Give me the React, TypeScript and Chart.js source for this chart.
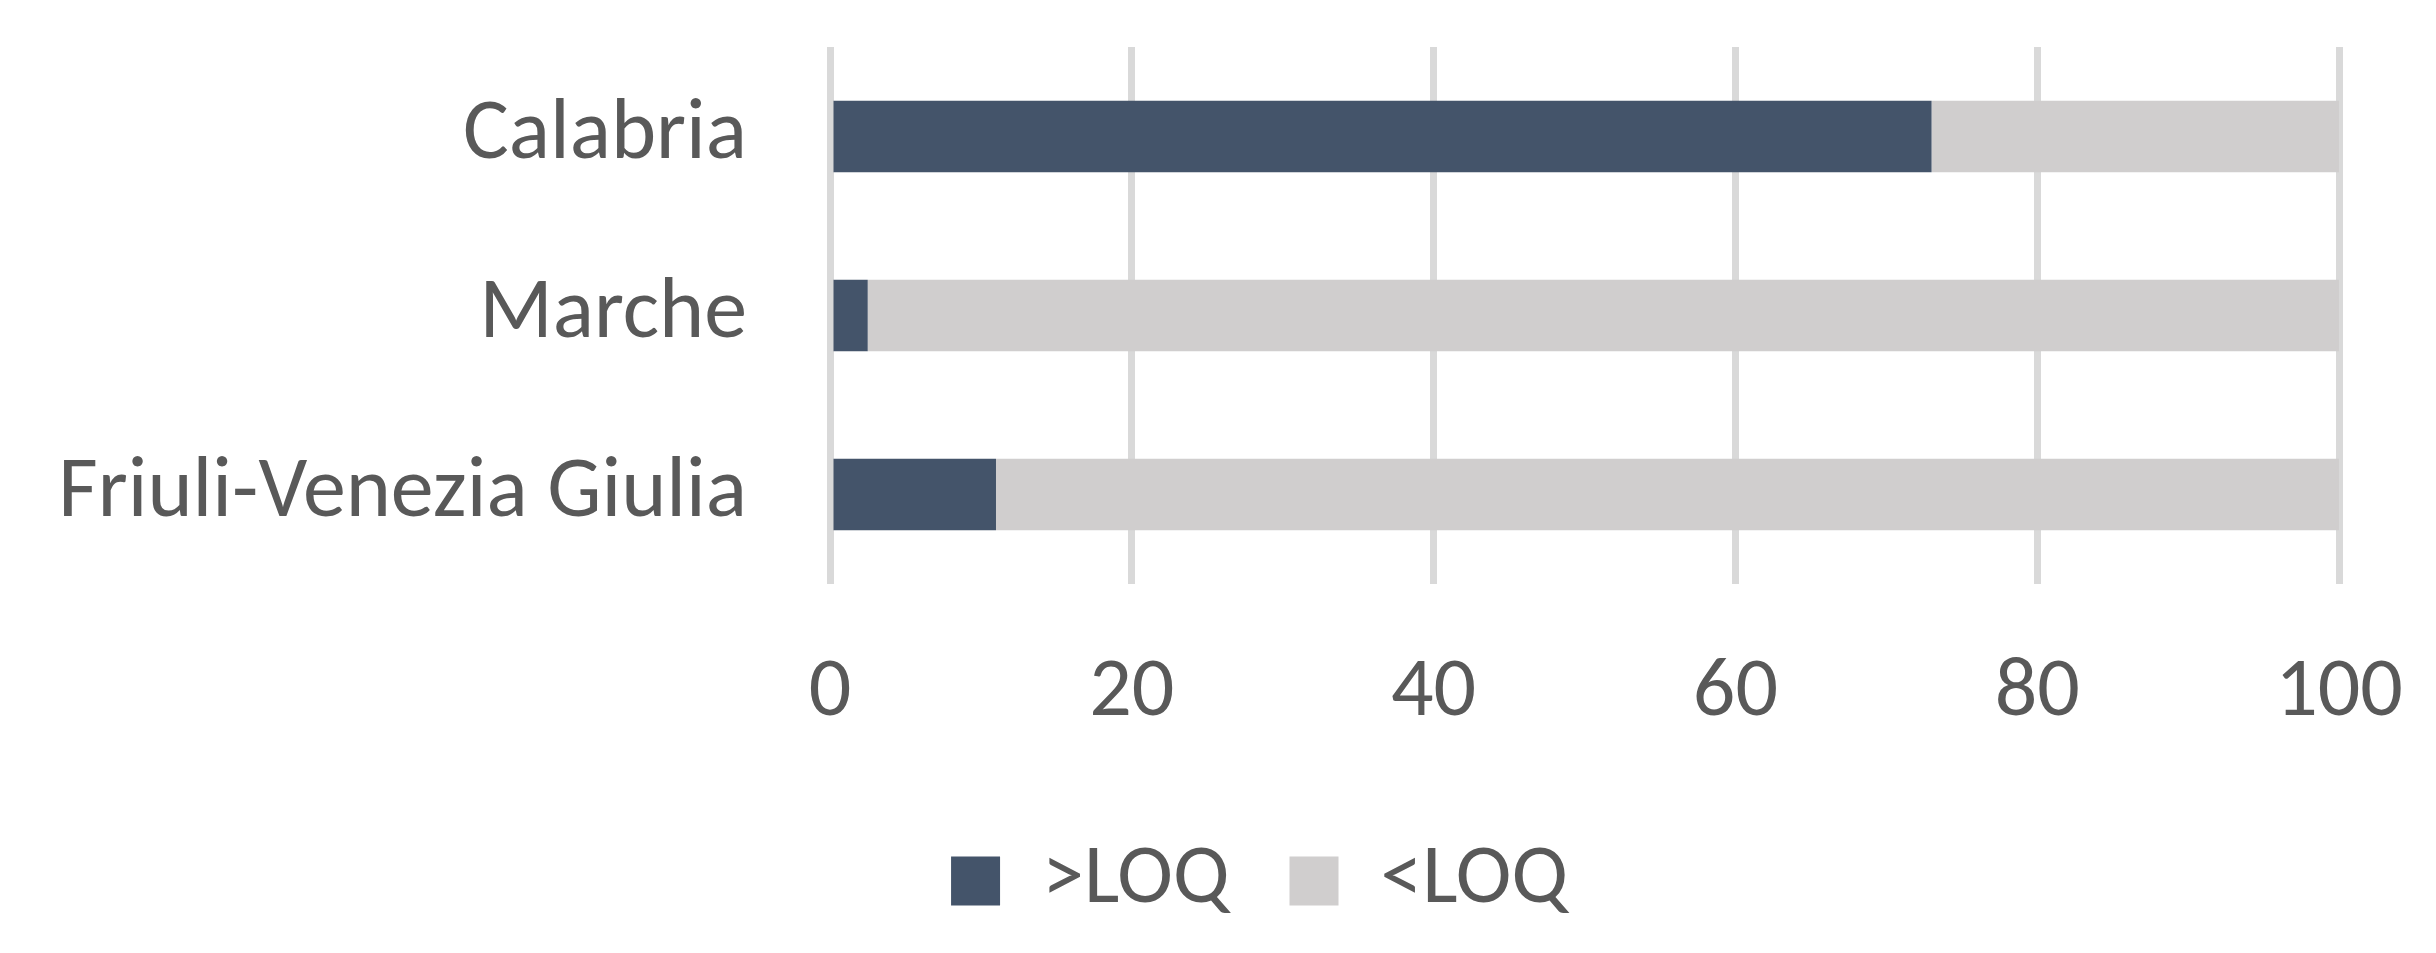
import React, { useEffect, useRef } from "react";
import { Chart, registerables } from "chart.js";

Chart.register(...registerables);

const categories = ["Calabria", "Marche", "Friuli-Venezia Giulia"];
const aboveLOQ = [73, 2.5, 11];
const belowLOQ = [27, 97.5, 89];
const seriesNames = [">LOQ", "<LOQ"];
const xTicks = [0, 20, 40, 60, 80, 100];

const FONT = "Carlito, Lato, sans-serif";
const TEXT = "#595959";

const legendShift = {
  id: "legendShift",
  afterLayout(chart: any) {
    const lg = chart.legend;
    if (lg) {
      lg.left += 90;
      lg.right += 90;
    }
  },
};

export default function App() {
  const ref = useRef<HTMLCanvasElement | null>(null);
  useEffect(() => {
    if (!ref.current) return;
    const chart = new Chart(ref.current, {
      type: "bar",
      data: {
        labels: categories,
        datasets: [
          { label: seriesNames[0], data: aboveLOQ, backgroundColor: "#44546A", borderWidth: 0, categoryPercentage: 1, barPercentage: 0.4 },
          { label: seriesNames[1], data: belowLOQ, backgroundColor: "#D0CECE", borderWidth: 0, categoryPercentage: 1, barPercentage: 0.4 },
        ],
      },
      options: {
        indexAxis: "y",
        animation: false,
        responsive: false,
        devicePixelRatio: 1,
        layout: { padding: { left: 0, right: 97, top: 47, bottom: 20 } },
        scales: {
          x: {
            stacked: true,
            min: 0,
            max: 100,
            afterBuildTicks: (s: any) => { s.ticks = xTicks.map((v) => ({ value: v })); },
            afterFit: (s: any) => { s.height = 195; s.paddingLeft = 0; s.paddingRight = 0; s.paddingTop = 0; s.paddingBottom = 0; },
            grid: { color: "#D9D9D9", lineWidth: 7, drawTicks: false },
            border: { display: false },
            ticks: { color: TEXT, font: { family: FONT, size: 84 }, padding: 60, maxRotation: 0 },
          },
          y: {
            stacked: true,
            afterFit: (s: any) => { s.width = 830; s.paddingTop = 0; s.paddingBottom = 0; s.paddingLeft = 0; s.paddingRight = 0; },
            grid: { display: false, drawTicks: false },
            border: { display: false },
            ticks: { color: TEXT, font: { family: FONT, size: 86 }, padding: 83 },
          },
        },
        plugins: {
          legend: {
            position: "bottom",
            labels: { color: TEXT, font: { family: FONT, size: 84 }, boxWidth: 49, boxHeight: 49, padding: 60 },
          },
          tooltip: { enabled: false },
        },
      },
      plugins: [legendShift],
    });
    return () => chart.destroy();
  }, []);
  return (
    <div style={{ position: "fixed", left: 0, top: 0, width: 2436, height: 953, background: "#fff" }}>
      <canvas ref={ref} width={2436} height={953} />
    </div>
  );
}
